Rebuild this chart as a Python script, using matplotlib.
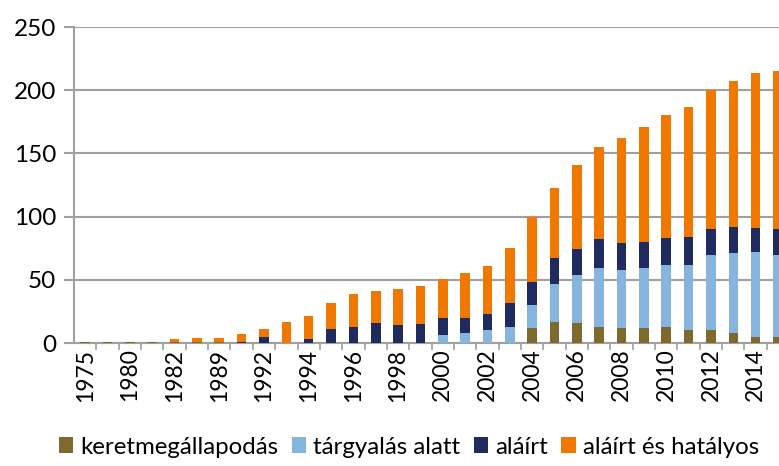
import numpy as np
import matplotlib
matplotlib.use('Agg')
import matplotlib.pyplot as plt
from matplotlib.patches import Patch

plt.rcParams['font.family'] = ['Lato', 'DejaVu Sans']

years = ['1975', '1979', '1980', '1981', '1982', '1985', '1989', '1991',
         '1992', '1993', '1994', '1995', '1996', '1997', '1998', '1999',
         '2000', '2001', '2002', '2003', '2004', '2005', '2006', '2007',
         '2008', '2009', '2010', '2011', '2012', '2013', '2014', '2015']

keret = [1, 1, 1, 1, 1, 1, 1, 0,
         0, 0, 0, 0, 0, 0, 0, 0,
         0, 0, 0, 0, 12, 17, 16, 13,
         12, 12, 13, 10, 10, 8, 5, 5]
targyalas = [0, 0, 0, 0, 0, 0, 0, 0,
             0, 0, 0, 0, 0, 0, 0, 0,
             6, 8, 10, 13, 18, 30, 38, 46,
             46, 47, 49, 52, 60, 63, 67, 65]
alairt = [0, 0, 0, 0, 0, 0, 0, 1,
          5, 0, 3, 11, 13, 16, 14, 15,
          14, 12, 13, 19, 18, 20, 20, 23,
          21, 21, 21, 22, 20, 21, 19, 20]
hatalyos = [0, 0, 0, 0, 2, 3, 3, 6,
            6, 17, 18, 21, 26, 25, 29, 30,
            31, 35, 38, 43, 52, 56, 67, 73,
            83, 91, 97, 103, 110, 115, 123, 125]

series_names = ['keretmegállapodás', 'tárgyalás alatt', 'aláírt', 'aláírt és hatályos']
colors = ['#7f6a2e', '#85b5de', '#1f2a5e', '#f07800']

fig = plt.figure(figsize=(7.79, 4.66), dpi=100)
ax = fig.add_axes([74 / 779, 123 / 466, 32 * 22.35 / 779, 316 / 466])

x = np.arange(len(years))
bottom = np.zeros(len(years))
for vals, col in zip([keret, targyalas, alairt, hatalyos], colors):
    ax.bar(x, vals, width=0.43, bottom=bottom, color=col, zorder=3)
    bottom += np.array(vals)

ax.set_xlim(-0.5, len(years) - 0.5)
ax.set_ylim(0, 250)
ax.set_yticks(range(0, 251, 50))
ax.yaxis.grid(True, color='#a0a0a0', lw=1.5, zorder=0)

ax.set_xticks(x[::2])
ax.set_xticklabels(years[::2], rotation=90)
ax.set_xticks(np.arange(len(years)) + 0.5, minor=True)
ax.tick_params(axis='x', which='major', length=0, labelsize=16.5, pad=4)
ax.tick_params(axis='x', which='minor', length=5, color='#a0a0a0', width=1.2)
ax.tick_params(axis='y', length=7, color='#a0a0a0', width=1.5, labelsize=17.5, pad=6)

for side in ['top', 'right']:
    ax.spines[side].set_visible(False)
for side in ['left', 'bottom']:
    ax.spines[side].set_color('#a0a0a0')
    ax.spines[side].set_linewidth(1.5)

handles = [Patch(facecolor=c, label=n) for c, n in zip(colors, series_names)]
fig.legend(handles=handles, loc='center', bbox_to_anchor=(0.525, 0.04), ncol=4,
           frameon=False, fontsize=17.3, handlelength=0.6, handleheight=0.65,
           handletextpad=0.3, columnspacing=0.55)

fig.savefig('out.png', dpi=100)
